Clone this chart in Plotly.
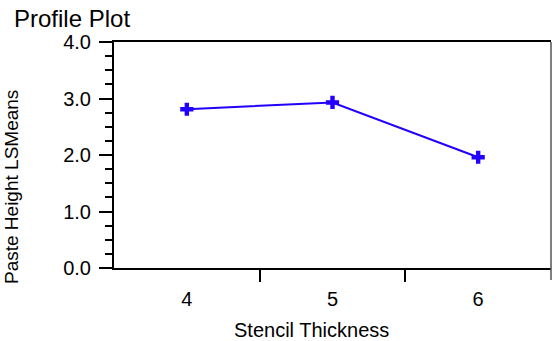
import plotly.graph_objects as go

# Data
stencil_thickness = [4, 5, 6]
paste_height_lsmeans = [2.81, 2.93, 1.96]
x_tick_labels = ["4", "5", "6"]
y_tick_values = [0, 1, 2, 3, 4]

W, H = 552, 341
PX_L, PX_R, PX_T, PX_B = 114, 551, 42, 268  # plot area in page pixels
L, R, T, B = PX_L, W - PX_R, PX_T, H - PX_B
plot_w = PX_R - PX_L
plot_h = PX_B - PX_T


def px(xs):
    return (xs - PX_L) / plot_w


def py(ys):
    return (PX_B - ys) / plot_h


FONT = "Liberation Sans, Arial, sans-serif"
BLUE = "#2200ff"

fig = go.Figure()
fig.add_trace(go.Scatter(
    x=stencil_thickness, y=paste_height_lsmeans,
    mode="lines+markers",
    line=dict(color=BLUE, width=2),
    marker=dict(symbol="cross", size=11, color=BLUE),
    showlegend=False, hoverinfo="skip",
))
# invisible trace to activate the label axis
fig.add_trace(go.Scatter(x=stencil_thickness, y=paste_height_lsmeans, xaxis="x2",
                         mode="markers", marker=dict(opacity=0), showlegend=False,
                         hoverinfo="skip"))

fig.update_layout(
    width=W, height=H,
    margin=dict(l=L, r=R, t=T, b=B, pad=0),
    paper_bgcolor="white", plot_bgcolor="white",
    font=dict(family=FONT, color="black", size=20),
    xaxis=dict(
        range=[3.5, 6.5], tickmode="array",
        tickvals=[4.5, 5.5], ticktext=["", ""],
        ticks="outside", ticklen=12, tickwidth=2, tickcolor="black",
        showline=True, linecolor="black", linewidth=2, mirror=True,
        showgrid=False, zeroline=False, fixedrange=True,
    ),
    xaxis2=dict(
        range=[3.5, 6.5], overlaying="x", side="bottom", anchor="y",
        tickmode="array", tickvals=stencil_thickness, ticktext=x_tick_labels,
        ticks="", ticklabelstandoff=17,
        showline=False, showgrid=False, zeroline=False,
        tickfont=dict(size=20, family=FONT),
    ),
    yaxis=dict(
        range=[0, 4], tickmode="array", tickvals=y_tick_values,
        tickformat=".1f",
        ticks="outside", ticklen=13, tickwidth=2, tickcolor="black",
        ticklabelstandoff=4,
        minor=dict(dtick=0.25, ticks="outside", ticklen=7, tickwidth=2, tickcolor="black"),
        showline=True, linecolor="black", linewidth=2,
        showgrid=False, zeroline=False, fixedrange=True,
        tickfont=dict(size=20, family=FONT),
    ),
)

# right frame line extending below the axis
fig.add_shape(type="line", xref="paper", yref="paper",
              x0=1, x1=1, y0=-12 / plot_h, y1=1,
              line=dict(color="#555555", width=1.5))

# titles
fig.add_annotation(text="Profile Plot", xref="paper", yref="paper",
                   x=px(12), y=py(19),
                   xanchor="left", yanchor="middle", showarrow=False,
                   font=dict(size=24, family=FONT))
fig.add_annotation(text="Stencil Thickness", xref="paper", yref="paper",
                   x=px(311), y=py(330),
                   xanchor="center", yanchor="middle", showarrow=False,
                   font=dict(size=20, family=FONT))
fig.add_annotation(text="Paste Height LSMeans", xref="paper", yref="paper",
                   x=px(11), y=py(187),
                   xanchor="center", yanchor="middle", showarrow=False,
                   textangle=-90, font=dict(size=19, family=FONT))

fig.write_html("out.html", config={"displayModeBar": False},
               post_script="document.body.style.margin='0px';")
